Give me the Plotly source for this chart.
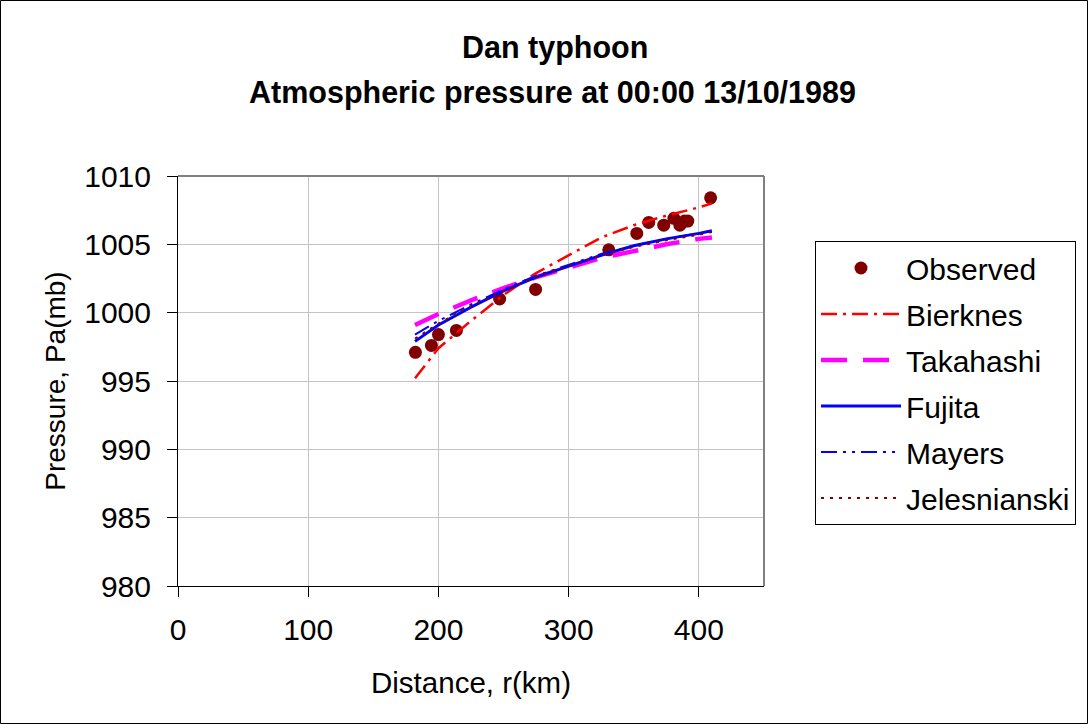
import plotly.graph_objects as go

obs_x = [182.3, 194.6, 200.0, 213.8, 247.0, 274.6, 330.8, 352.3, 361.5, 373.0, 380.8, 385.4, 389.0, 391.5, 409.0]
obs_y = [997.1, 997.6, 998.4, 998.7, 1001.0, 1001.7, 1004.6, 1005.8, 1006.6, 1006.4, 1006.9, 1006.4, 1006.7, 1006.7, 1008.4]

model_x = [182, 200, 225, 250, 275, 300, 325, 350, 375, 400, 410]
bierknes = [995.2, 997.4, 999.4, 1001.3, 1002.9, 1004.2, 1005.5, 1006.4, 1007.1, 1007.7, 1008.0]
takahashi = [999.1, 999.9, 1000.9, 1001.8, 1002.6, 1003.3, 1004.0, 1004.5, 1005.0, 1005.4, 1005.5]
fujita = [997.9, 999.1, 1000.4, 1001.6, 1002.6, 1003.4, 1004.2, 1004.9, 1005.4, 1005.8, 1006.0]
mayers = [998.4, 999.4, 1000.6, 1001.7, 1002.7, 1003.5, 1004.3, 1004.9, 1005.4, 1005.8, 1006.0]
jelesnianski = [998.1, 999.2, 1000.5, 1001.6, 1002.6, 1003.4, 1004.2, 1004.8, 1005.3, 1005.7, 1005.9]

x_ticks = [0, 100, 200, 300, 400]
y_ticks = [980, 985, 990, 995, 1000, 1005, 1010]

title_lines = ["Dan typhoon", "Atmospheric pressure at 00:00 13/10/1989"]

FONT = "Liberation Sans, Arial, sans-serif"

fig = go.Figure()
fig.add_trace(go.Scatter(x=obs_x, y=obs_y, mode="markers", name="Observed",
                         marker=dict(color="#800000", size=13), legendgroup="a"))
fig.add_trace(go.Scatter(x=model_x, y=bierknes, mode="lines", name="Bierknes",
                         line=dict(color="#ff0000", width=2.5, dash="16px,6px,3px,6px"), legendgroup="b"))
fig.add_trace(go.Scatter(x=model_x, y=takahashi, mode="lines", name="Takahashi",
                         line=dict(color="#ff00ff", width=4.5, dash="26px,16px"), legendgroup="c"))
fig.add_trace(go.Scatter(x=model_x, y=fujita, mode="lines", name="Fujita",
                         line=dict(color="#0000ff", width=3), legendgroup="d"))
fig.add_trace(go.Scatter(x=model_x, y=mayers, mode="lines", name="Mayers",
                         line=dict(color="#0000ff", width=2, dash="16px,6px,3px,6px,3px,6px"), legendgroup="e"))
fig.add_trace(go.Scatter(x=model_x, y=jelesnianski, mode="lines", name="Jelesnianski",
                         line=dict(color="#800000", width=2, dash="3px,6px"), legendgroup="f"))

L, R, T, B = 178, 764, 176, 586
W, H = 1089, 725
pw, ph = R - L, B - T

def px2paper_x(p):
    return (p - L) / pw

def px2paper_y(p):
    return (B - p) / ph

annotations = [
    dict(text="<b>%s</b>" % title_lines[0], xref="paper", yref="paper",
         x=px2paper_x(555), y=px2paper_y(48), xanchor="center", yanchor="middle",
         showarrow=False, font=dict(family=FONT, size=30.5, color="black")),
    dict(text="<b>%s</b>" % title_lines[1], xref="paper", yref="paper",
         x=px2paper_x(552), y=px2paper_y(92), xanchor="center", yanchor="middle",
         showarrow=False, font=dict(family=FONT, size=30.5, color="black")),
]

fig.update_layout(
    width=W, height=H,
    margin=dict(l=L, r=W - R, t=T, b=H - B),
    paper_bgcolor="white", plot_bgcolor="white",
    font=dict(family=FONT, size=30, color="black"),
    annotations=annotations,
    showlegend=True,
    legend=dict(x=px2paper_x(815), y=px2paper_y(241), xanchor="left", yanchor="top",
                bordercolor="black", borderwidth=1, bgcolor="white",
                font=dict(family=FONT, size=30), itemwidth=80,
                tracegroupgap=4, traceorder="grouped"),
    xaxis=dict(range=[0, 450], tickvals=x_ticks, showgrid=True, gridcolor="#c4c4c4",
               showline=True, linecolor="black", linewidth=1, ticks="outside", ticklen=10,
               tickcolor="black", zeroline=False, ticklabelstandoff=7,
               title=dict(text="Distance, r(km)", standoff=27, font=dict(size=29.5)),
               tickfont=dict(size=30)),
    yaxis=dict(range=[980, 1010], tickvals=y_ticks, showgrid=True, gridcolor="#c4c4c4",
               showline=True, linecolor="black", linewidth=1, ticks="outside", ticklen=10,
               tickcolor="black", zeroline=False, ticklabelstandoff=10,
               title=dict(text="Pressure, Pa(mb)", standoff=10, font=dict(size=28)),
               tickfont=dict(size=30)),
    shapes=[
        dict(type="line", xref="paper", yref="paper", x0=0, x1=1, y0=1, y1=1,
             line=dict(color="#808080", width=2)),
        dict(type="line", xref="paper", yref="paper", x0=1, x1=1, y0=0, y1=1,
             line=dict(color="#808080", width=2)),
        dict(type="rect", xref="paper", yref="paper",
             x0=px2paper_x(0.5), x1=px2paper_x(W - 1.5),
             y0=px2paper_y(H - 1.5), y1=px2paper_y(0.5),
             line=dict(color="black", width=1)),
    ],
)

fig.write_html("out.html")
